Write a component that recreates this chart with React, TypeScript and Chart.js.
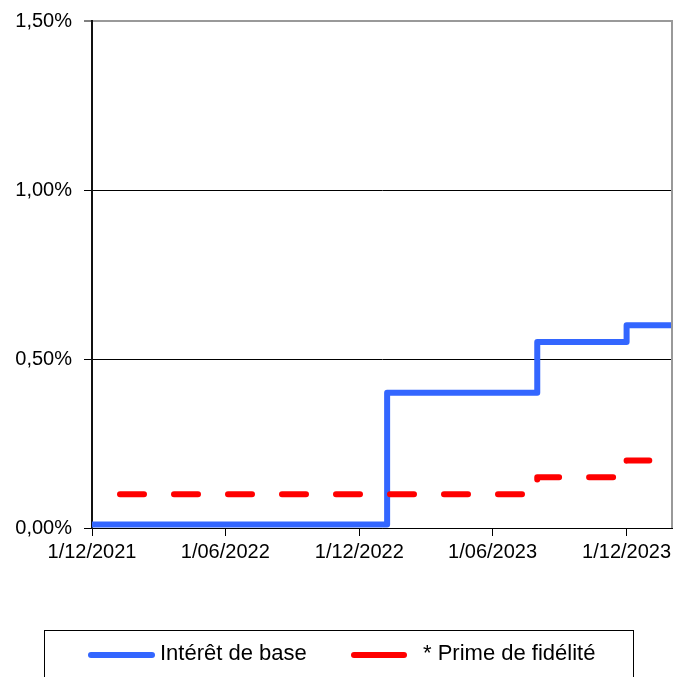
import React, { useEffect, useRef } from "react";
import { Chart, registerables } from "chart.js";

Chart.register(...registerables);

// ---- data ----
const axisStart = "2021-12-01";
const axisEnd = "2024-02-01";
const tickDates = ["2021-12-01", "2022-06-01", "2022-12-01", "2023-06-01", "2023-12-01"];
const tickLabels = ["1/12/2021", "1/06/2022", "1/12/2022", "1/06/2023", "1/12/2023"];
const yTicks = [0, 0.5, 1, 1.5];
const seriesLabels = ["Intérêt de base", "* Prime de fidélité"];

const baseDates = ["2021-12-01", "2023-01-08", "2023-08-01", "2023-12-01", "2024-02-01"];
const baseRates = [0.01, 0.4, 0.55, 0.6, 0.6];

const primeDates = ["2021-12-01", "2023-08-01", "2023-12-01", "2024-01-01"];
const primeRates = [0.1, 0.15, 0.2, 0.2];

const BLUE = "#3366FF";
const RED = "#FF0000";
const FONT = "'Liberation Sans', Arial, sans-serif";

const toUTC = (s: string) => {
  const [y, m, d] = s.split("-").map(Number);
  return Date.UTC(y, m - 1, d);
};
const dayOf = (s: string) => Math.round((toUTC(s) - toUTC(axisStart)) / 86400000);

const rightBorder = {
  id: "rightBorder",
  afterDatasetsDraw(chart: any) {
    const { ctx, chartArea } = chart;
    ctx.save();
    ctx.strokeStyle = "#999999";
    ctx.lineWidth = 2;
    ctx.beginPath();
    ctx.moveTo(chartArea.right, chartArea.top - 1);
    ctx.lineTo(chartArea.right, chartArea.bottom);
    ctx.stroke();
    ctx.restore();
  },
};

export default function App() {
  const canvasRef = useRef<HTMLCanvasElement | null>(null);

  useEffect(() => {
    if (!canvasRef.current) return;
    const chart = new Chart(canvasRef.current, {
      type: "line",
      data: {
        datasets: [
          {
            label: seriesLabels[0],
            data: baseDates.map((d, i) => ({ x: dayOf(d), y: baseRates[i] })),
            borderColor: BLUE,
            backgroundColor: BLUE,
            borderWidth: 6,
            stepped: "before",
            pointRadius: 0,
            fill: false,
            borderJoinStyle: "round",
            clip: { left: 3, top: 3, right: 0, bottom: 3 },
            order: 1,
          },
          {
            label: seriesLabels[1],
            data: primeDates.map((d, i) => ({ x: dayOf(d), y: primeRates[i] })),
            borderColor: RED,
            backgroundColor: RED,
            borderWidth: 6,
            borderDash: [24, 30],
            borderDashOffset: 26,
            borderCapStyle: "round",
            borderJoinStyle: "round",
            stepped: "before",
            pointRadius: 0,
            fill: false,
            clip: { left: 3, top: 3, right: 0, bottom: 3 },
            order: 0,
          },
        ],
      } as any,
      options: {
        responsive: false,
        animation: false,
        devicePixelRatio: 1,
        layout: { padding: { top: 21, right: 14, bottom: 109, left: 0 } },
        plugins: {
          legend: { display: false },
          tooltip: { enabled: false },
        },
        scales: {
          x: {
            type: "linear",
            min: 0,
            max: dayOf(axisEnd),
            afterBuildTicks: (scale: any) => {
              scale.ticks = tickDates.map((d) => ({ value: dayOf(d) }));
            },
            afterFit: (scale: any) => {
              scale.height = 40;
            },
            ticks: {
              autoSkip: false,
              maxRotation: 0,
              padding: 4,
              color: "#000",
              font: { family: FONT, size: 20 },
              callback: (value: any) => {
                const idx = tickDates.findIndex((d) => dayOf(d) === value);
                return idx >= 0 ? tickLabels[idx] : "";
              },
            },
            grid: {
              drawOnChartArea: false,
              drawTicks: true,
              tickLength: 8,
              color: "#000",
              tickColor: "#000",
            },
            border: { color: "#000", width: 1 },
          },
          y: {
            type: "linear",
            min: 0,
            max: 1.5,
            afterBuildTicks: (scale: any) => {
              scale.ticks = yTicks.map((v) => ({ value: v }));
            },
            afterFit: (scale: any) => {
              scale.width = 92;
              scale.paddingTop = 0;
              scale.paddingBottom = 0;
            },
            ticks: {
              padding: 12,
              color: "#000",
              font: { family: FONT, size: 20 },
              callback: (value: any) => Number(value).toFixed(2).replace(".", ",") + "%",
            },
            grid: {
              drawTicks: true,
              tickLength: 8,
              color: (ctx: any) => (ctx.tick && ctx.tick.value === 1.5 ? "#999999" : "#000000"),
              lineWidth: (ctx: any) => (ctx.tick && ctx.tick.value === 1.5 ? 2 : 1),
              tickColor: "#000",
              tickWidth: 1,
            },
            border: { color: "#111", width: 2 },
          },
        },
      } as any,
      plugins: [rightBorder],
    });
    return () => chart.destroy();
  }, []);

  const textStyle: React.CSSProperties = {
    position: "absolute",
    top: 642,
    fontFamily: FONT,
    fontSize: 22,
    lineHeight: "22px",
    color: "#000",
    whiteSpace: "nowrap",
  };
  const lineStyle = (color: string, left: number, width: number): React.CSSProperties => ({
    position: "absolute",
    left,
    top: 652,
    width,
    height: 6,
    borderRadius: 3,
    background: color,
  });

  return (
    <div
      style={{
        position: "absolute",
        left: 0,
        top: 0,
        width: 686,
        height: 677,
        overflow: "hidden",
        background: "#fff",
      }}
    >
      <canvas ref={canvasRef} width={686} height={677} style={{ display: "block", width: 686, height: 677 }} />
      <div
        style={{
          position: "absolute",
          left: 44,
          top: 630,
          width: 590,
          height: 70,
          boxSizing: "border-box",
          border: "1px solid #000",
        }}
      />
      <div style={lineStyle(BLUE, 88, 67)} />
      <div style={{ ...textStyle, left: 160 }}>{seriesLabels[0]}</div>
      <div style={lineStyle(RED, 351, 56)} />
      <div style={{ ...textStyle, left: 423 }}>{seriesLabels[1]}</div>
    </div>
  );
}
